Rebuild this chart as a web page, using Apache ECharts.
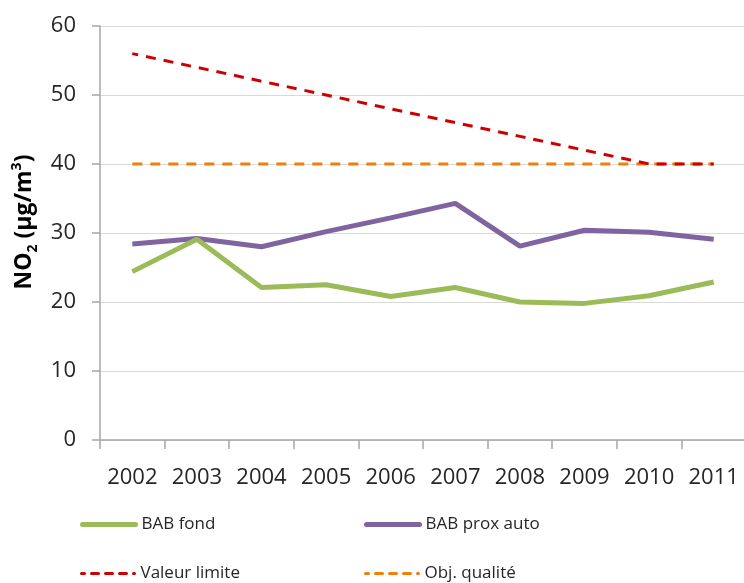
<!DOCTYPE html>
<html>
<head>
<meta charset="utf-8">
<script src="https://cdn.jsdelivr.net/npm/echarts@6/dist/echarts.min.js"></script>
<style>
  html, body { margin: 0; padding: 0; background: #ffffff; }
  #chart { width: 744px; height: 583px; }
</style>
</head>
<body>
<div id="chart"></div>
<script>
// NO2 annual means, Bayonne-Anglet-Biarritz (µg/m³)
const years = ['2002', '2003', '2004', '2005', '2006', '2007', '2008', '2009', '2010', '2011'];
const babFond = [24.4, 29.1, 22.1, 22.5, 20.8, 22.1, 20.0, 19.8, 20.9, 22.9];
const babProxAuto = [28.4, 29.2, 28.0, 30.2, 32.2, 34.3, 28.1, 30.4, 30.1, 29.1];
const valeurLimite = [56, 54, 52, 50, 48, 46, 44, 42, 40, 40];
const objQualite = [40, 40, 40, 40, 40, 40, 40, 40, 40, 40];
const yTicks = { min: 0, max: 60, interval: 10 };

const FONT = '"Open Sans", "Liberation Sans", sans-serif';
const AXIS_GREY = '#a6a6a6';
const GREEN = '#9bbb59';
const PURPLE = '#8064a2';
const ORANGE = '#f07f09';
const RED = '#cc0000';

const chart = echarts.init(document.getElementById('chart'), null, { renderer: 'canvas' });

// one legend block per entry, laid out as a 2 x 2 table under the plot
function legendAt(name, left, top, color, width, dash) {
  return {
    show: true,
    data: [name],
    left: left,
    top: top,
    padding: 0,
    itemWidth: 53,
    itemHeight: 14,
    itemGap: 0,
    itemStyle: { opacity: 0 },
    lineStyle: { color: color, width: width, type: dash, cap: 'round' },
    textStyle: { fontFamily: FONT, fontSize: 17, color: '#262626', padding: [0, 0, 0, 1] },
    selectedMode: false
  };
}

chart.setOption({
  animation: false,
  backgroundColor: '#ffffff',
  grid: { left: 100, right: -2, top: 26, bottom: 143, containLabel: false, outerBoundsMode: 'none' },
  legend: [
    legendAt('BAB fond', 80, 516, GREEN, 5, 'solid'),
    legendAt('BAB prox auto', 364, 516, PURPLE, 5, 'solid'),
    legendAt('Valeur limite', 80, 565, RED, 3, [7, 7]),
    legendAt('Obj. qualité', 364, 565, ORANGE, 3, [7, 7])
  ],
  xAxis: {
    type: 'category',
    data: years,
    boundaryGap: true,
    axisLine: { lineStyle: { color: AXIS_GREY, width: 1.5 } },
    axisTick: { show: true, length: 9, alignWithLabel: false, lineStyle: { color: AXIS_GREY, width: 1.5 } },
    axisLabel: { fontFamily: FONT, fontSize: 22, color: '#262626', margin: 27, interval: 0 },
    splitLine: { show: false }
  },
  yAxis: {
    type: 'value',
    min: yTicks.min,
    max: yTicks.max,
    interval: yTicks.interval,
    name: '{b|NO}{sub|2}{b| (µg/m}{sup|3}{b|)}',
    nameLocation: 'middle',
    nameRotate: 90,
    nameGap: 55,
    nameTextStyle: {
      padding: [0, 0, 0, 22],
      rich: {
        b: { fontFamily: FONT, fontSize: 23, fontWeight: 'bold', color: '#000000', lineHeight: 30, verticalAlign: 'middle' },
        sub: { fontFamily: FONT, fontSize: 14, fontWeight: 'bold', color: '#000000', lineHeight: 30, verticalAlign: 'bottom' },
        sup: { fontFamily: FONT, fontSize: 14, fontWeight: 'bold', color: '#000000', lineHeight: 30, verticalAlign: 'top' }
      }
    },
    axisLine: { show: true, lineStyle: { color: AXIS_GREY, width: 1.5 } },
    axisTick: { show: true, length: 8, lineStyle: { color: AXIS_GREY, width: 1.5 } },
    axisLabel: { fontFamily: FONT, fontSize: 22, color: '#262626', margin: 24 },
    splitLine: { show: true, lineStyle: { color: '#d9d9d9', width: 1 } }
  },
  series: [
    {
      name: 'BAB fond',
      type: 'line',
      data: babFond,
      symbol: 'none',
      lineStyle: { color: GREEN, width: 5 },
      itemStyle: { color: GREEN },
      z: 4
    },
    {
      name: 'BAB prox auto',
      type: 'line',
      data: babProxAuto,
      symbol: 'none',
      lineStyle: { color: PURPLE, width: 5 },
      itemStyle: { color: PURPLE },
      z: 3
    },
    {
      name: 'Obj. qualité',
      type: 'line',
      data: objQualite,
      symbol: 'none',
      lineStyle: { color: ORANGE, width: 3, type: [10, 8] },
      itemStyle: { color: ORANGE },
      z: 2
    },
    {
      name: 'Valeur limite',
      type: 'line',
      data: valeurLimite,
      symbol: 'none',
      lineStyle: { color: RED, width: 3, type: [10, 8], dashOffset: 4 },
      itemStyle: { color: RED },
      z: 2
    }
  ]
});
</script>
</body>
</html>
